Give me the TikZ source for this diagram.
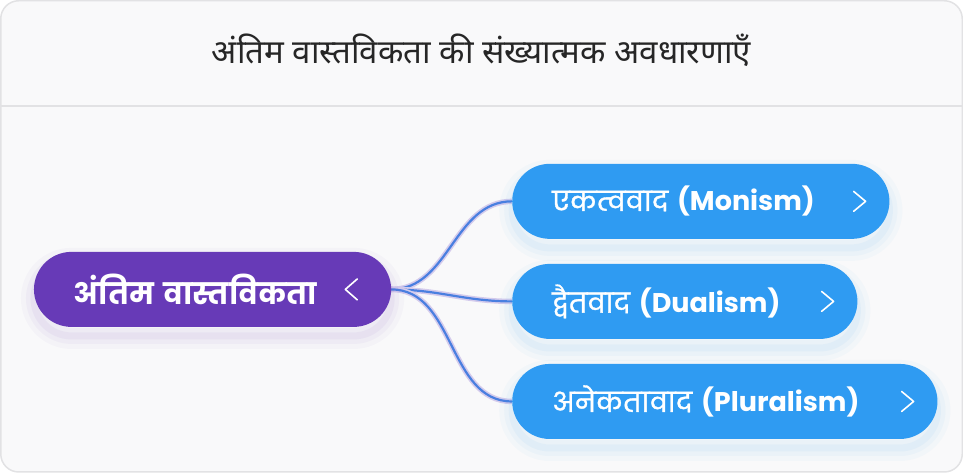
\documentclass[tikz,border=0pt]{standalone}
\usepackage{fontspec}
\usepackage{xcolor}
\usepackage{tikz}

\newfontfamily\titlefont[Script=Devanagari]{Noto Sans}
\newfontfamily\nodefont[Script=Devanagari]{Poppins}
\newfontfamily\leafdeva[Script=Devanagari,FakeBold=1.3]{Poppins}
\newcommand{\deva}[1]{{\leafdeva\mdseries #1}}

\definecolor{framegray}{HTML}{E2E2E4}
\definecolor{panelbg}{HTML}{F9F9FA}
\definecolor{rootpurple}{HTML}{673AB7}
\definecolor{leafblue}{HTML}{2F9BF2}
\definecolor{linkblue}{HTML}{4A7FE0}
\definecolor{linkhalo}{HTML}{D4CBEC}

\begin{document}
\begin{tikzpicture}
  [
    x=1pt,y=1pt,
    frame/.style={draw=framegray,line width=1.5pt,fill=panelbg,rounded corners=18pt},
    titletext/.style={text=black!85,font=\titlefont\fontsize{33}{38}\selectfont},
    glow/.style={
      preaction={draw=#1,draw opacity=0.03,line width=26pt,transform canvas={yshift=-9pt}},
      preaction={draw=#1,draw opacity=0.04,line width=16pt,transform canvas={yshift=-9pt}},
      preaction={draw=#1,draw opacity=0.05,line width=7pt,transform canvas={yshift=-9pt}}},
    concept/.style={rectangle,rounded corners=37.5pt,minimum height=75pt,inner xsep=40pt,inner ysep=0pt,align=left,anchor=west,text=white,
      font=\nodefont\bfseries\fontsize{27}{32}\selectfont},
    root/.style={concept,fill=rootpurple,glow=rootpurple,font=\nodefont\bfseries\fontsize{29.5}{34}\selectfont},
    leaf/.style={concept,fill=leafblue,glow=leafblue},
    link/.style={draw=linkhalo,line width=1.6pt,double=linkblue,double distance=2.2pt},
    chevron/.style={draw=white,line width=1.6pt,line cap=round,line join=round}
  ]
  \draw[frame] (1,1) rectangle (962,472);
  \draw[framegray,line width=1.5pt] (1,367) -- (962,367);
  \node[titletext] at (481.5,423) (title) {अंतिम वास्तविकता की संख्यात्मक अवधारणाएँ};

  % links go under the nodes
  \coordinate (hub) at (391,183.5);
  \coordinate (monism in) at (512,271.5);
  \coordinate (dualism in) at (512,171.5);
  \coordinate (pluralism in) at (512,71.5);
  \draw[link] (hub) to[out=0,in=180] (monism in);
  \draw[link] (hub) to[out=0,in=180] (dualism in);
  \draw[link] (hub) to[out=0,in=180] (pluralism in);

  \node[root,text width=277pt] at (34,183.5) (ultimate) {अंतिम वास्तविकता};
  \node[leaf,text width=297pt] at (512,271.5) (monism) {\deva{एकत्ववाद} (Monism)};
  \node[leaf,text width=265pt] at (512,171.5) (dualism) {\deva{द्वैतवाद} (Dualism)};
  \node[leaf,text width=345pt] at (512,71.5) (pluralism) {\deva{अनेकतावाद} (Pluralism)};

  \draw[chevron] ([xshift=-34pt,yshift=10.5pt]ultimate.east) -- ++(-12,-10.5) -- ++(12,-10.5);
  \draw[chevron] ([xshift=-36pt,yshift=10pt]monism.east) -- ++(12,-10) -- ++(-12,-10);
  \draw[chevron] ([xshift=-36pt,yshift=10pt]dualism.east) -- ++(12,-10) -- ++(-12,-10);
  \draw[chevron] ([xshift=-36pt,yshift=10pt]pluralism.east) -- ++(12,-10) -- ++(-12,-10);
\end{tikzpicture}
\end{document}
